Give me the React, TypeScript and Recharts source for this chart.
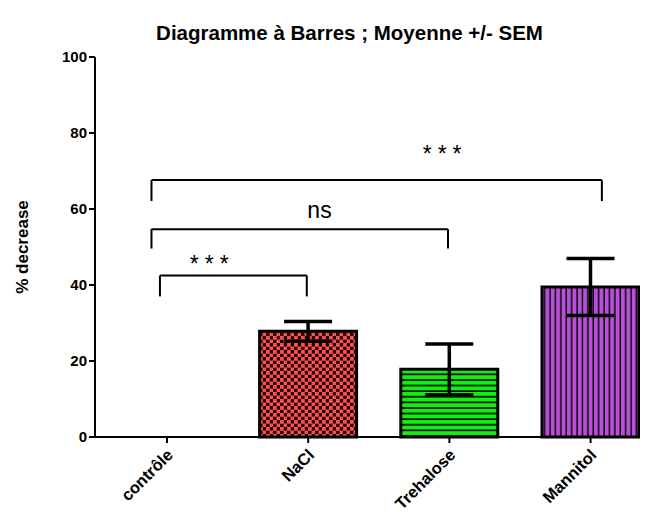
import React from "react";
import {
  BarChart,
  Bar,
  XAxis,
  YAxis,
  Cell,
  ErrorBar,
  ReferenceLine,
  ReferenceDot,
} from "recharts";

// categories and values
const categories = ["contrôle", "NaCl", "Trehalose", "Mannitol"];
const means = [0, 27.8, 17.8, 39.5];
const sems: (number | null)[] = [null, 2.6, 6.7, 7.5];
const fills = ["#ffffff", "url(#checker)", "url(#hstripe)", "url(#vstripe)"];
const yTicks = [0, 20, 40, 60, 80, 100];

// significance brackets (x in category units, y in % units)
const bracketStart = [-0.05, -0.11, -0.11];
const bracketEnd = [0.99, 1.99, 3.08];
const bracketTop = [42.5, 54.7, 67.6];
const bracketLeg = [37.0, 49.6, 62.1];
const sigLabels = ["***", "ns", "***"];
const sigX = [0.32, 1.08, 1.97];
const sigY = [45.6, 59.9, 74.4];

const data = categories.map((name, i) => ({
  idx: i,
  name,
  mean: means[i],
  sem: sems[i],
}));

const FONT = "Arial, 'Liberation Sans', sans-serif";

function XTick(props: any) {
  const { x, y, payload } = props;
  const ax = x + 7;
  const ay = y + 11;
  return (
    <text
      x={ax}
      y={ay}
      transform={`rotate(-45, ${ax}, ${ay})`}
      textAnchor="end"
      fontFamily={FONT}
      fontWeight="bold"
      fontSize={16.5}
      fill="#000"
    >
      {categories[payload.value]}
    </text>
  );
}

export default function App() {
  return (
    <div
      style={{
        position: "absolute",
        left: 0,
        top: 0,
        width: 649,
        height: 512,
        background: "#fff",
      }}
    >
      <div
        style={{
          position: "absolute",
          top: 21,
          left: 0,
          width: 649,
          paddingLeft: 50,
          boxSizing: "border-box",
          textAlign: "center",
          fontFamily: FONT,
          fontWeight: "bold",
          fontSize: 20.5,
          lineHeight: "24px",
          whiteSpace: "nowrap",
        }}
      >
        Diagramme à Barres ; Moyenne +/- SEM
      </div>
      <BarChart
        width={649}
        height={512}
        data={data}
        margin={{ top: 57, right: 9, bottom: 45, left: 0 }}
      >
        <defs>
          <pattern id="checker" patternUnits="userSpaceOnUse" width="7" height="7">
            <rect width="7" height="7" fill="#1a0000" />
            <rect width="3.8" height="3.8" fill="#ff4d4d" />
            <rect x="3.5" y="3.5" width="3.8" height="3.8" fill="#ff4d4d" />
          </pattern>
          <pattern id="hstripe" patternUnits="userSpaceOnUse" width="10" height="5.6">
            <rect width="10" height="5.6" fill="#11ee11" />
            <rect y="4" width="10" height="1.6" fill="#000" />
          </pattern>
          <pattern id="vstripe" patternUnits="userSpaceOnUse" width="5.4" height="10">
            <rect width="5.4" height="10" fill="#b84fd8" />
            <rect x="4" width="1.4" height="10" fill="#000" />
          </pattern>
        </defs>
        <XAxis
          dataKey="idx"
          type="number"
          height={30}
          domain={[-0.51, 3.35]}
          ticks={[0, 1, 2, 3]}
          allowDataOverflow
          interval={0}
          tick={<XTick />}
          tickSize={6}
          axisLine={{ stroke: "#000", strokeWidth: 2 }}
          tickLine={{ stroke: "#000", strokeWidth: 2 }}
        />
        <YAxis
          width={95}
          domain={[0, 100]}
          ticks={yTicks}
          tickSize={6}
          axisLine={{ stroke: "#000", strokeWidth: 2 }}
          tickLine={{ stroke: "#000", strokeWidth: 2 }}
          tick={{ fill: "#000", fontSize: 15, fontWeight: "bold", fontFamily: FONT }}
          label={{
            value: "% decrease",
            angle: -90,
            position: "center",
            dx: -26,
            style: { fontFamily: FONT, fontWeight: "bold", fontSize: 17, fill: "#000" },
          }}
        />
        <Bar dataKey="mean" barSize={97} isAnimationActive={false}>
          {data.map((d, i) => (
            <Cell key={`cell-${i}`} fill={fills[i]} stroke="#000" strokeWidth={3} />
          ))}
          <ErrorBar dataKey="sem" width={24} stroke="#000" strokeWidth={3.5} />
        </Bar>
        {bracketTop.map((top, i) => (
          <ReferenceLine
            key={`bt-${i}`}
            segment={[
              { x: bracketStart[i], y: top },
              { x: bracketEnd[i], y: top },
            ]}
            stroke="#000"
            strokeWidth={2}
          />
        ))}
        {bracketTop.map((top, i) => (
          <ReferenceLine
            key={`bl-${i}`}
            segment={[
              { x: bracketStart[i], y: top },
              { x: bracketStart[i], y: bracketLeg[i] },
            ]}
            stroke="#000"
            strokeWidth={2}
          />
        ))}
        {bracketTop.map((top, i) => (
          <ReferenceLine
            key={`br-${i}`}
            segment={[
              { x: bracketEnd[i], y: top },
              { x: bracketEnd[i], y: bracketLeg[i] },
            ]}
            stroke="#000"
            strokeWidth={2}
          />
        ))}
        {sigLabels.map((s, i) => (
          <ReferenceDot
            key={`sig-${i}`}
            x={sigX[i]}
            y={sigY[i]}
            r={0}
            fill="none"
            stroke="none"
            label={{
              value: s,
              position: "center",
              style: {
                fontFamily: FONT,
                fontSize: 23,
                letterSpacing: s === "***" ? 6 : 0,
                fill: "#000",
              },
            }}
          />
        ))}
      </BarChart>
    </div>
  );
}
